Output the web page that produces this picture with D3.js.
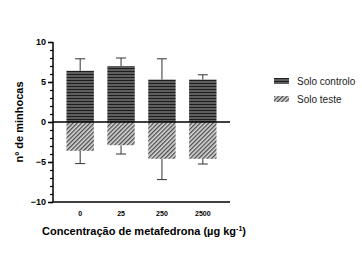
<!DOCTYPE html>
<html lang="pt">
<head>
<meta charset="UTF-8">
<title>minhocas</title>
<style>
	body { margin: 0; background: #fff; }
	svg { font-family: "Liberation Sans", Arial, sans-serif; }
</style>
</head>
<body>
<svg id="cont" width="362" height="271"></svg>
<script src="https://cdn.jsdelivr.net/npm/d3@7"></script>
<script>
	// data
	let doses = ["0", "25", "250", "2500"];
	let controlo = [6.4, 7.0, 5.3, 5.3];
	let controloErr = [1.5, 1.0, 2.6, 0.6];
	let teste = [-3.6, -2.9, -4.6, -4.6];
	let testeErr = [1.6, 1.1, 2.6, 0.65];
	let yTicks = [-10, -5, 0, 5, 10];
	let seriesNames = ["Solo controlo", "Solo teste"];

	let svg = d3.select("#cont");

	// patterns for the two fills
	let defs = svg.append("defs");
	let p1 = defs.append("pattern")
		.attr("id", "horiz")
		.attr("patternUnits", "userSpaceOnUse")
		.attr("width", 6).attr("height", 3);
	p1.append("rect").attr("width", 6).attr("height", 3).attr("fill", "#5e5e5e");
	p1.append("rect").attr("y", 2).attr("width", 6).attr("height", 1).attr("fill", "#1e1e1e");

	let p2 = defs.append("pattern")
		.attr("id", "diag")
		.attr("patternUnits", "userSpaceOnUse")
		.attr("width", 3).attr("height", 3)
		.attr("patternTransform", "rotate(45)");
	p2.append("rect").attr("width", 3).attr("height", 3).attr("fill", "#d8d8d8");
	p2.append("rect").attr("width", 1.3).attr("height", 3).attr("fill", "#4a4a4a");

	let y = d3.scaleLinear().domain([-10, 10]).range([202, 42]);
	let x = d3.scaleBand().domain(doses).range([53, 230]).paddingInner(0.33).paddingOuter(0.33);

	let g = svg.append("g");

	// error bars (outer side only)
	function errBars(vals, errs, cls) {
		let eg = g.selectAll("g." + cls).data(vals).enter().append("g").attr("class", cls);
		eg.append("line")
			.attr("x1", (d, i) => x(doses[i]) + x.bandwidth() / 2)
			.attr("x2", (d, i) => x(doses[i]) + x.bandwidth() / 2)
			.attr("y1", d => y(d))
			.attr("y2", (d, i) => y(d + Math.sign(d) * errs[i]))
			.attr("stroke", "#333").attr("stroke-width", 1);
		eg.append("line")
			.attr("x1", (d, i) => x(doses[i]) + x.bandwidth() / 2 - 5)
			.attr("x2", (d, i) => x(doses[i]) + x.bandwidth() / 2 + 5)
			.attr("y1", (d, i) => y(d + Math.sign(d) * errs[i]))
			.attr("y2", (d, i) => y(d + Math.sign(d) * errs[i]))
			.attr("stroke", "#333").attr("stroke-width", 1);
	}
	errBars(controlo, controloErr, "ec");
	errBars(teste, testeErr, "et");

	g.selectAll("rect.c").data(controlo).enter().append("rect")
		.attr("class", "c")
		.attr("x", (d, i) => x(doses[i]))
		.attr("width", x.bandwidth())
		.attr("y", d => y(d))
		.attr("height", d => y(0) - y(d))
		.attr("fill", "url(#horiz)");

	g.selectAll("rect.t").data(teste).enter().append("rect")
		.attr("class", "t")
		.attr("x", (d, i) => x(doses[i]))
		.attr("width", x.bandwidth())
		.attr("y", y(0))
		.attr("height", d => y(d) - y(0))
		.attr("fill", "url(#diag)");

	// zero line
	g.append("line")
		.attr("x1", 53).attr("x2", 230)
		.attr("y1", y(0)).attr("y2", y(0))
		.attr("stroke", "#000").attr("stroke-width", 1.5);

	// bottom line
	g.append("line")
		.attr("x1", 53).attr("x2", 230)
		.attr("y1", y(-10)).attr("y2", y(-10))
		.attr("stroke", "#000").attr("stroke-width", 1.5);

	// y axis with minor ticks
	let minor = d3.axisLeft(y).ticks(20).tickSize(3).tickFormat("");
	let ym = svg.append("g").attr("transform", "translate(53,0)").call(minor);
	ym.select(".domain").remove();
	ym.selectAll("line").attr("stroke", "#000").attr("stroke-width", 1.2);

	let yaxis = d3.axisLeft(y).tickValues(yTicks).tickSize(5).tickPadding(2);
	let ya = svg.append("g").attr("transform", "translate(53,0)").call(yaxis);
	ya.select(".domain").attr("stroke-width", 1.5).attr("d", "M0," + y(10) + "V" + y(-10));
	ya.selectAll("line").attr("stroke-width", 1.5);
	ya.selectAll("text")
		.style("font-family", "Liberation Sans, Arial, sans-serif")
		.style("font-size", "9px").style("font-weight", "bold").attr("fill", "#000");

	// x tick labels
	svg.selectAll("text.xt").data(doses).enter().append("text")
		.attr("class", "xt")
		.attr("x", d => x(d) + x.bandwidth() / 2)
		.attr("y", 216)
		.attr("text-anchor", "middle")
		.style("font-size", "7px").style("font-weight", "bold")
		.text(d => d);

	// titles
	let xt = svg.append("text")
		.attr("x", 144).attr("y", 235)
		.attr("text-anchor", "middle")
		.style("font-size", "11px").style("font-weight", "bold");
	xt.append("tspan").text("Concentração de metafedrona (µg kg");
	xt.append("tspan").attr("dy", -4).style("font-size", "7px").text("-1");
	xt.append("tspan").attr("dy", 4).text(")");

	svg.append("text")
		.attr("transform", "translate(23,122) rotate(-90)")
		.attr("text-anchor", "middle")
		.style("font-size", "11px").style("font-weight", "bold")
		.text("nº de minhocas");

	// legend
	let fills = ["url(#horiz)", "url(#diag)"];
	let lg = svg.selectAll("g.lg").data(seriesNames).enter().append("g")
		.attr("class", "lg")
		.attr("transform", (d, i) => "translate(274," + (82 + i * 18) + ")");
	lg.append("rect").attr("x", 0).attr("y", -4).attr("width", 15).attr("height", 6)
		.attr("fill", (d, i) => fills[i]);
	lg.append("text").attr("x", 23).attr("y", 3)
		.style("font-size", "10px").attr("fill", "#222")
		.text(d => d);
</script>
</body>
</html>
